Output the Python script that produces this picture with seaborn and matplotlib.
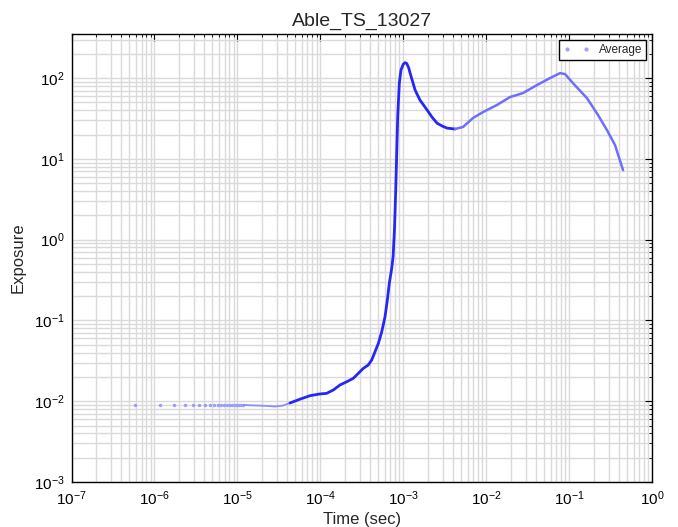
import matplotlib
matplotlib.use("Agg")
import matplotlib.pyplot as plt
import seaborn as sns
from matplotlib.lines import Line2D

title = "Able_TS_13027"
x_label = "Time (sec)"
y_label = "Exposure"
series_name = "Average"

# Sparse early samples (evenly spaced in time)
early_time = [5.8e-7, 1.16e-6, 1.74e-6, 2.32e-6, 2.9e-6, 3.48e-6, 4.06e-6,
              4.64e-6, 5.22e-6, 5.8e-6, 6.38e-6, 6.96e-6, 7.54e-6, 8.12e-6,
              8.7e-6, 9.28e-6, 9.86e-6, 1.04e-5, 1.1e-5, 1.16e-5]
early_exposure = [0.0090, 0.0090, 0.0090, 0.0090, 0.0090, 0.0090, 0.0090,
                  0.0090, 0.0090, 0.0090, 0.0090, 0.0090, 0.0090, 0.0090,
                  0.0090, 0.0090, 0.0090, 0.0090, 0.0090, 0.0090]

# Averaged exposure trace
time = [1.2e-5, 1.42e-5, 2.0e-5, 2.84e-5, 3.5e-5, 4.31e-5, 5.69e-5, 7.51e-5,
        9.93e-5, 1.19e-4, 1.44e-4, 1.73e-4, 2.08e-4, 2.50e-4, 2.87e-4,
        3.30e-4, 3.79e-4, 4.17e-4, 4.57e-4, 5.01e-4, 5.50e-4, 6.03e-4,
        6.43e-4, 6.79e-4, 7.26e-4, 7.55e-4, 7.85e-4, 8.11e-4, 8.35e-4,
        8.57e-4, 8.97e-4, 9.39e-4, 1.0e-3, 1.05e-3, 1.1e-3, 1.16e-3,
        1.21e-3, 1.39e-3, 1.59e-3, 1.94e-3, 2.22e-3, 2.55e-3, 2.94e-3,
        3.37e-3, 4.21e-3, 5.26e-3, 6.93e-3, 9.16e-3, 1.35e-2,
        1.94e-2, 2.78e-2, 4.10e-2, 5.89e-2, 7.78e-2, 8.93e-2, 0.111, 0.164,
        0.223, 0.286, 0.358, 0.447]
exposure = [0.0090, 0.0089, 0.0088, 0.0086, 0.0088, 0.0095, 0.0106, 0.0117,
            0.0123, 0.0125, 0.0138, 0.0159, 0.0174, 0.0192, 0.0221,
            0.0255, 0.0281, 0.0324, 0.041, 0.052, 0.072, 0.111,
            0.179, 0.288, 0.44, 0.62, 1.4, 4.0, 12.0,
            32.9, 86.7, 126, 148, 155, 152, 135,
            115, 71, 53.4, 40.2, 32.9, 27.7, 25.5,
            24.0, 23.4, 24.8, 32.0, 37.9, 46.4,
            58.2, 65.2, 81.9, 100, 115, 112, 86.7, 56.5,
            34.9, 22.7, 14.8, 7.26]

sns.set_theme(style="white")
plt.rcParams["font.family"] = ["Liberation Sans", "DejaVu Sans"]
plt.rcParams["mathtext.default"] = "regular"

fig = plt.figure(figsize=(6.78, 5.27), dpi=100)
ax = fig.add_axes([0.1055, 0.0854, 0.8562, 0.8501])

# sample density varies along the trace: sparse start, dense middle, lighter tail
n_light = 6
n_dense = 45
sns.scatterplot(x=early_time, y=early_exposure, ax=ax, color="#9a9aff",
                s=6, linewidth=0, legend=False)
sns.lineplot(x=time[:n_light], y=exposure[:n_light], ax=ax, color="#8c8cff",
             lw=1.3, legend=False)
sns.lineplot(x=time[n_light - 1:n_dense], y=exposure[n_light - 1:n_dense],
             ax=ax, color="#2626f5", lw=2.0, legend=False)
sns.lineplot(x=time[n_dense - 1:], y=exposure[n_dense - 1:], ax=ax,
             color="#6e6eff", lw=1.8, legend=False)

ax.set_xscale("log")
ax.set_yscale("log")
ax.set_xlim(1e-7, 1e0)
ax.set_ylim(1e-3, 351)

ax.grid(True, which="both", color="#dadada", lw=1.0)
ax.set_axisbelow(True)
for sp in ax.spines.values():
    sp.set_color("black")
    sp.set_linewidth(1.0)
ax.tick_params(which="both", direction="in", top=True, right=True,
               colors="black", labelsize=11)
ax.tick_params(which="major", length=5, width=0.8, pad=5)
ax.tick_params(which="minor", length=2.5, width=0.6)

ax.set_title(title, fontsize=14, pad=6)
ax.set_xlabel(x_label, fontsize=12, labelpad=3)
ax.set_ylabel(y_label, fontsize=12, labelpad=6)

handle = Line2D([], [], ls="", marker=".", color="#a0a0ff", markersize=4)
leg = ax.legend([handle], [series_name], loc="upper right", numpoints=2,
                fancybox=False, edgecolor="black", framealpha=1,
                fontsize=8.5, borderaxespad=0.5, handlelength=2.2,
                borderpad=0.35)
leg.get_frame().set_linewidth(1.0)

fig.savefig("out.png", dpi=100)
